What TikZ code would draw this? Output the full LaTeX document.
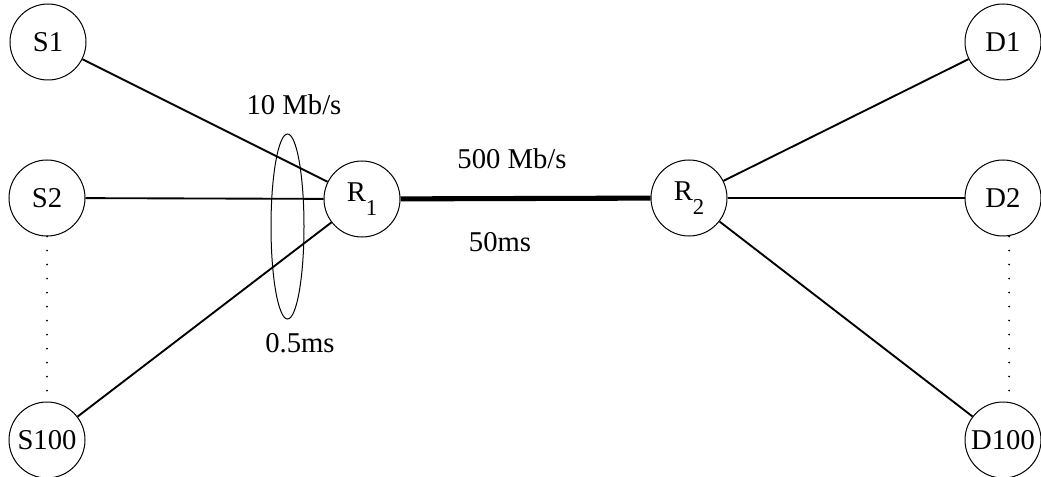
\documentclass[tikz,border=0pt]{standalone}
\usepackage{fontspec}
\setmainfont{Liberation Serif}
\usetikzlibrary{calc}
\tikzset{every picture/.style={line width=0.75pt}}
\tikzset{
  host/.style={draw,circle,minimum size=57pt,inner sep=0pt,font=\fontsize{21.5}{25}\selectfont},
  access/.style={line width=1.4pt},
  bottleneck/.style={line width=3.8pt},
  lbl/.style={anchor=base,inner sep=0pt,font=\fontsize{21.5}{25}\selectfont}
}
\newcommand{\rtr}[1]{R\raisebox{-11pt}{\fontsize{17}{19}\selectfont #1}}

\begin{document}
\begin{tikzpicture}[x=0.75pt,y=0.75pt,yscale=-1,xscale=1]
\useasboundingbox (0,0) rectangle (1041,477);

%Sources
\node [host] (s1) at (48,42) {S1};
\node [host] (s2) at (47,198) {S2};
\node [host] (s100) at (47,440) {S100};
%Routers
\node [host] (r1) at (362,199) {\rtr{1}};
\node [host] (r2) at (689,198) {\rtr{2}};
%Destinations
\node [host] (d1) at (1003,42) {D1};
\node [host] (d2) at (1003,198) {D2};
\node [host] (d100) at (1003,440) {D100};

%Straight Lines
\draw [access] (s1) -- (r1);
\draw [access] (s2) -- (r1);
\draw [access] (s100) -- (r1);
\draw [bottleneck] (r1) -- (r2);
\draw [access] (r2) -- (d1);
\draw [access] (r2) -- (d2);
\draw [access] (r2) -- (d100);
%Dotted Lines
\draw [line width=1.5pt,line cap=round,dash pattern={on 0pt off 10.5pt}] (s2.south) -- (s100.north);
\draw [line width=1.5pt,line cap=round,dash pattern={on 0pt off 10.5pt}] ([xshift=4.5pt]d2.south) -- ([xshift=4.5pt]d100.north);
%Shape: Ellipse
\draw (287.5,226.5) ellipse (16.5 and 92.5);

% Text Node
\node [lbl] (bwacc) at (294,115) {10 Mb/s};
% Text Node
\node [lbl] (dlacc) at (300,352) {0.5ms};
% Text Node
\node [lbl] (bwneck) at (512,169) {500 Mb/s};
% Text Node
\node [lbl] (dlneck) at (500,251) {50ms};

\end{tikzpicture}
\end{document}
